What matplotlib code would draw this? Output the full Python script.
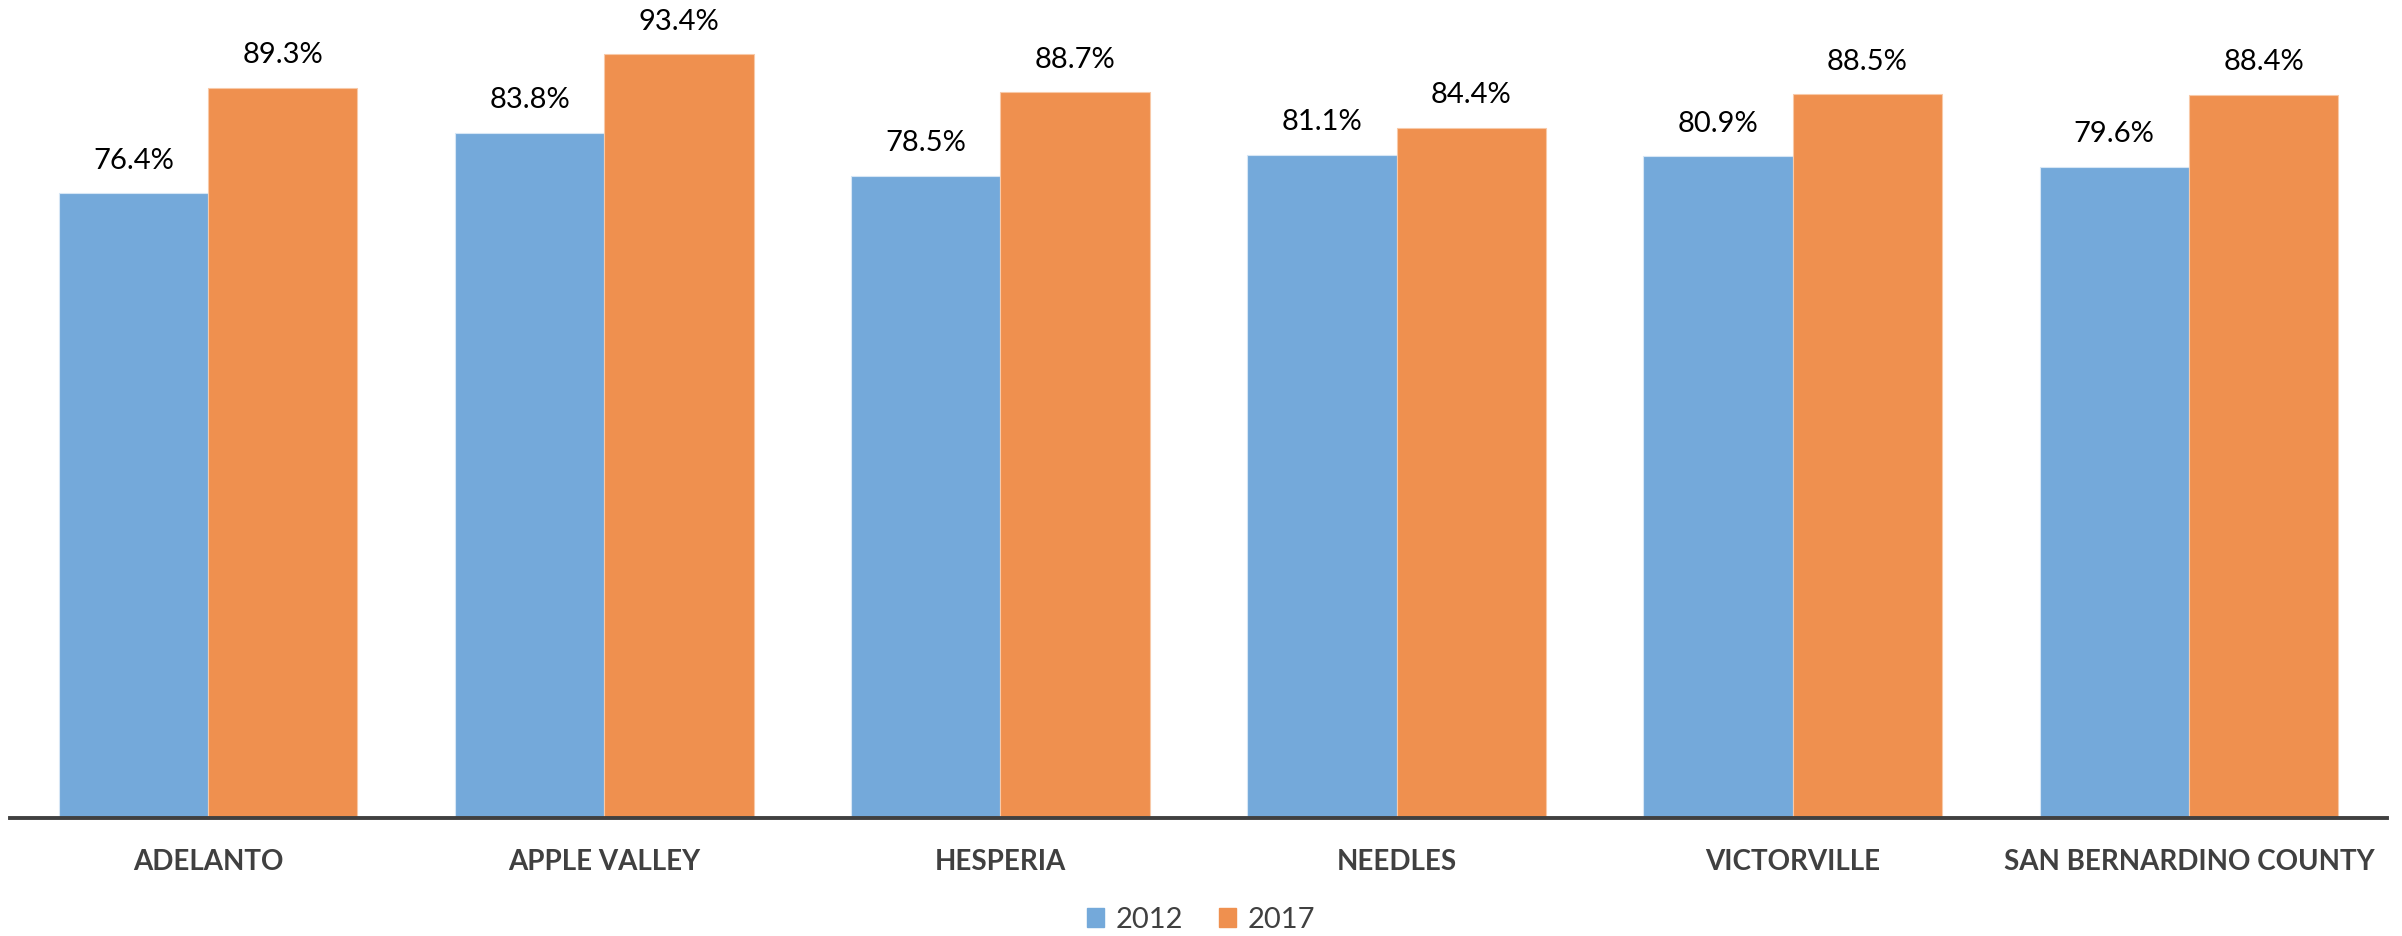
import numpy as np
import matplotlib
matplotlib.use("Agg")
import matplotlib.pyplot as plt
from matplotlib.patches import Patch

plt.rcParams['font.family'] = ['Lato', 'DejaVu Sans']

cities = ['ADELANTO', 'APPLE VALLEY', 'HESPERIA', 'NEEDLES', 'VICTORVILLE', 'SAN BERNARDINO COUNTY']
vals_2012 = [76.4, 83.8, 78.5, 81.1, 80.9, 79.6]
vals_2017 = [89.3, 93.4, 88.7, 84.4, 88.5, 88.4]

blue = '#74A9DA'
orange = '#EF904F'
dark = '#404040'

fig = plt.figure(figsize=(24.02, 9.36), dpi=100)
ax = fig.add_axes([10 / 2402, 118 / 936, 2377 / 2402, 818 / 936])

x = np.arange(len(cities))
w = 0.377
b1 = ax.bar(x - w / 2, vals_2012, w, color=blue, edgecolor='#D6E6F5', linewidth=0.8)
b2 = ax.bar(x + w / 2, vals_2017, w, color=orange, edgecolor='#F8C9A8', linewidth=0.8)

for bars, vals in ((b1, vals_2012), (b2, vals_2017)):
    for bar, v in zip(bars, vals):
        ax.annotate(f'{v:.1f}%', (bar.get_x() + bar.get_width() / 2, v),
                    xytext=(0, 14), textcoords='offset points',
                    ha='center', va='bottom', fontsize=21, color='black')

ax.set_xlim(-0.5, len(cities) - 0.5)
ax.set_ylim(0, 100)
ax.set_yticks([])
ax.set_xticks(x)
ax.set_xticklabels(cities, fontsize=20, fontweight='bold', color=dark)
ax.tick_params(axis='x', length=0, pad=22)
for s in ('top', 'right', 'left'):
    ax.spines[s].set_visible(False)
ax.spines['bottom'].set_color(dark)
ax.spines['bottom'].set_linewidth(2.8)

handles = [Patch(color=blue, label='2012'), Patch(color=orange, label='2017')]
fig.legend(handles=handles, loc='center', bbox_to_anchor=(0.5, 16 / 936), ncol=2,
           frameon=False, fontsize=21, labelcolor=dark, handlelength=0.6,
           handleheight=0.6, handletextpad=0.4, columnspacing=1.2)

fig.savefig('out.png', dpi=100)
